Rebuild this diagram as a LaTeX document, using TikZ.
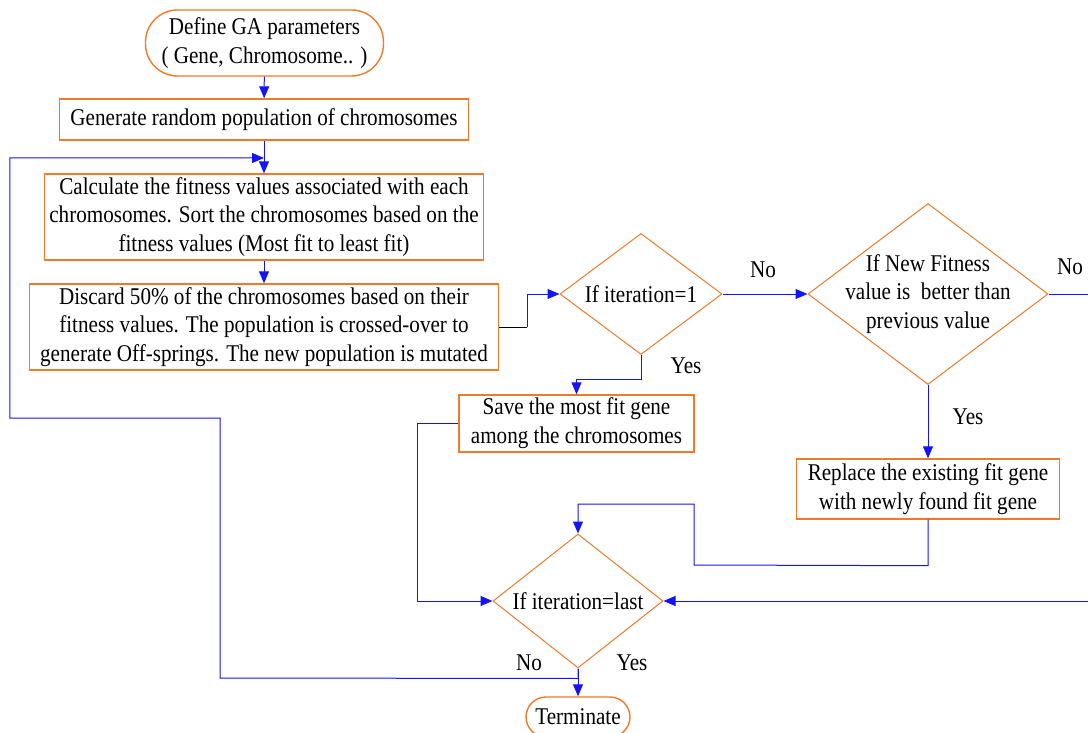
\documentclass[tikz,border=0pt]{standalone}
\usepackage{fontspec}
\setmainfont[FakeStretch=0.88]{Liberation Serif}
\usetikzlibrary{shapes.geometric,arrows.meta,positioning}
\definecolor{boxorange}{RGB}{240,122,40}
\definecolor{flowblue}{RGB}{20,20,250}

\begin{document}
\begin{tikzpicture}[
    x=25pt, y=25pt,
    font=\fontsize{12}{14.4}\selectfont,
    termnode/.style={draw=boxorange, line width=0.7pt, rounded corners=10pt, align=center, inner sep=1pt},
    procnode/.style={draw=boxorange, line width=0.7pt, align=center, inner sep=1pt},
    decnode/.style={draw=boxorange, line width=0.5pt, diamond, inner sep=0pt},
    labelnode/.style={align=center, inner sep=0pt},
    arrowline/.style={draw=flowblue, line width=0.5pt, -{Triangle[length=6pt,width=5pt]}},
    plainline/.style={draw=flowblue, line width=0.5pt}
]
\useasboundingbox (0,0) rectangle (21.76,-14.66);
% Main column
\node[termnode, minimum width=119pt, minimum height=33pt, rounded corners=16pt] (define) at (5.29,-0.86) {Define GA parameters\\( Gene, Chromosome.. )};
\node[procnode, minimum width=204.5pt, minimum height=20.5pt] (gen) at (5.28,-2.39) {Generate random population of chromosomes};
\node[procnode, minimum width=219.5pt, minimum height=43pt] (calc) at (5.28,-4.34) {Calculate the fitness values associated with each\\chromosomes. Sort the chromosomes based on the\\fitness values (Most fit to least fit)};
\node[procnode, minimum width=234.5pt, minimum height=43pt] (disc) at (5.28,-6.54) {Discard 50\% of the chromosomes based on their\\fitness values. The population is crossed-over to\\generate Off-springs. The new population is mutated};
% Decisions
\node[decnode, minimum width=81pt, minimum height=60.5pt, label={[labelnode]center:If iteration=1}] (iterone) at (12.82,-5.88) {};
\node[decnode, minimum width=120pt, minimum height=90.5pt, label={[labelnode]center:{If New Fitness\\value is \ better than\\previous value}}] (better) at (18.56,-5.88) {};
\node[procnode, minimum width=117.5pt, minimum height=28.5pt] (save) at (11.53,-8.47) {Save the most fit gene\\among the chromosomes};
\node[procnode, minimum width=131.5pt, minimum height=30pt] (replace) at (18.56,-9.78) {Replace the existing fit gene\\with newly found fit gene};
\node[decnode, minimum width=85pt, minimum height=67pt, label={[labelnode]center:If iteration=last}] (last) at (11.56,-12.02) {};
\node[termnode, minimum width=52pt, minimum height=20pt] (term) at (11.56,-14.34) {Terminate};
% Free ends
\coordinate (loopin) at (5.28,-3.16);
\coordinate (discbend) at (10.54,-6.54);
\coordinate (rightout) at (21.76,-5.88);
\coordinate (rightin) at (21.76,-12.02);
% Connectors
\draw[arrowline] (define) -- (gen);
\draw[arrowline] (gen) -- (calc);
\draw[arrowline] (calc) -- (disc);
\draw[black, line width=0.5pt] (disc.east) -- (discbend);
\draw[arrowline] (discbend) |- (iterone.west);
\draw[arrowline] (iterone.east) -- (better.west);
\draw[plainline] (better.east) -- (rightout);
\draw[arrowline] (iterone.south) -- ++(0,-0.48) -| (save.north);
\draw[arrowline] (better.south) -- (replace.north);
\draw[arrowline] (save.west) -- ++(-0.82,0) |- (last.west);
\draw[arrowline] (replace.south) -- ++(0,-0.92) -- (13.88,-11.3) -- (13.88,-10.08) -| (last.north);
\draw[arrowline] (rightin) -- (last.east);
\draw[arrowline] (last.south) -- (term.north);
\draw[arrowline] (last.south) -- ++(0,-0.2) -- (4.4,-13.56) -- (4.4,-8.36) -- (0.2,-8.36) |- (loopin);
% Labels
\node[labelnode] (noone) at (15.26,-5.4) {No};
\node[labelnode] (nofit) at (21.4,-5.34) {No};
\node[labelnode] (yesone) at (13.72,-7.32) {Yes};
\node[labelnode] (yesfit) at (19.36,-8.34) {Yes};
\node[labelnode] (nolast) at (10.58,-13.26) {No};
\node[labelnode] (yeslast) at (12.64,-13.26) {Yes};
\end{tikzpicture}
\end{document}
